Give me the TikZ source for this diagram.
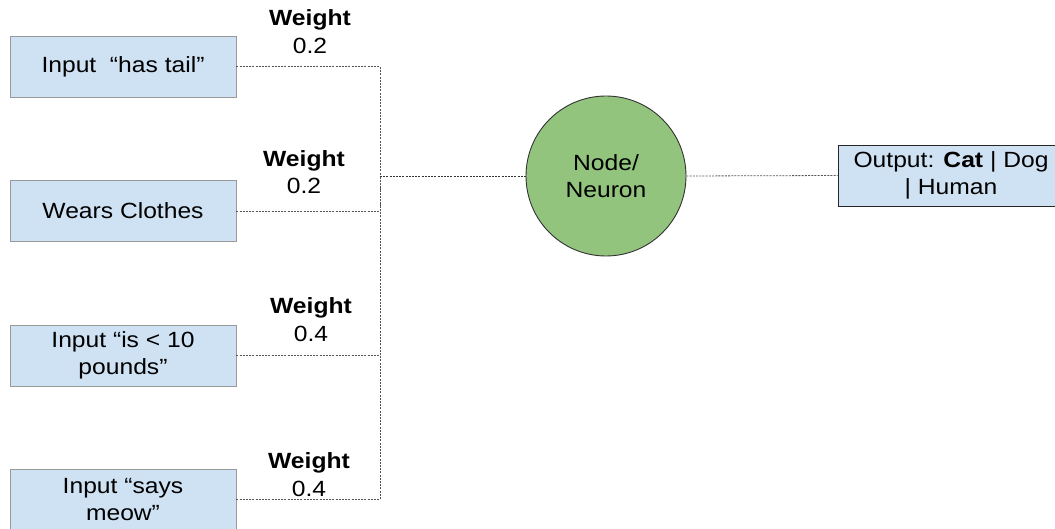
\documentclass[tikz,border=0pt]{standalone}
\usepackage{fontspec}
\setmainfont[FakeStretch=1.12]{Liberation Sans}
\definecolor{boxfill}{HTML}{CFE2F3}
\definecolor{boxline}{HTML}{999999}
\definecolor{neuronfill}{HTML}{93C47D}
\definecolor{wirecol}{HTML}{555555}
\tikzset{
  txt/.style={font=\fontsize{22}{27.5}\selectfont},
  inbox/.style={txt, draw=boxline, line width=0.9pt, fill=boxfill, rectangle,
    minimum width=226pt, minimum height=61pt, inner sep=0pt, align=center},
  outbox/.style={inbox, draw=black!85},
  neuron/.style={txt, draw=black!80, line width=0.9pt, fill=neuronfill, circle,
    minimum size=160pt, inner sep=0pt, align=center},
  wlabel/.style={txt, align=center, inner sep=0pt},
  wire/.style={draw=wirecol, line width=0.8pt, dash pattern=on 2pt off 1.2pt},
  bus/.style={wire, draw=black!80}
}
\begin{document}
\begin{tikzpicture}[x=1pt, y=-1pt]
\useasboundingbox (0,0) rectangle (1055,529);

% input features
\node[inbox] (in1) at (123,66.5) {Input \ “has tail”};
\node[inbox] (in2) at (123,211) {Wears Clothes};
\node[inbox] (in3) at (123,355.5) {Input “is < 10\\pounds”};
\node[inbox] (in4) at (123,499.5) {Input “says\\meow”};

% neuron and its output
\node[neuron] (neuron) at (606,176) {Node/\\Neuron};
\node[outbox] (out) at (951,175.5) {Output: \textbf{Cat} | Dog\\| Human};

% summing bus
\coordinate (bus) at (380,176);

\draw[wire] (in1.east) -| (bus);
\draw[wire] (in2.east) -| (bus);
\draw[wire] (in3.east) -| (bus);
\draw[wire] (in4.east) -| (bus);
\draw[bus] (bus) -- (neuron.west);
\draw[wire] (neuron.east) -- (out.west);

% weights
\node[wlabel] (w1) at (310,31.5) {\textbf{Weight}\\0.2};
\node[wlabel] (w2) at (304,172) {\textbf{Weight}\\0.2};
\node[wlabel] (w3) at (311,319.5) {\textbf{Weight}\\0.4};
\node[wlabel] (w4) at (309,474.5) {\textbf{Weight}\\0.4};
\end{tikzpicture}
\end{document}
